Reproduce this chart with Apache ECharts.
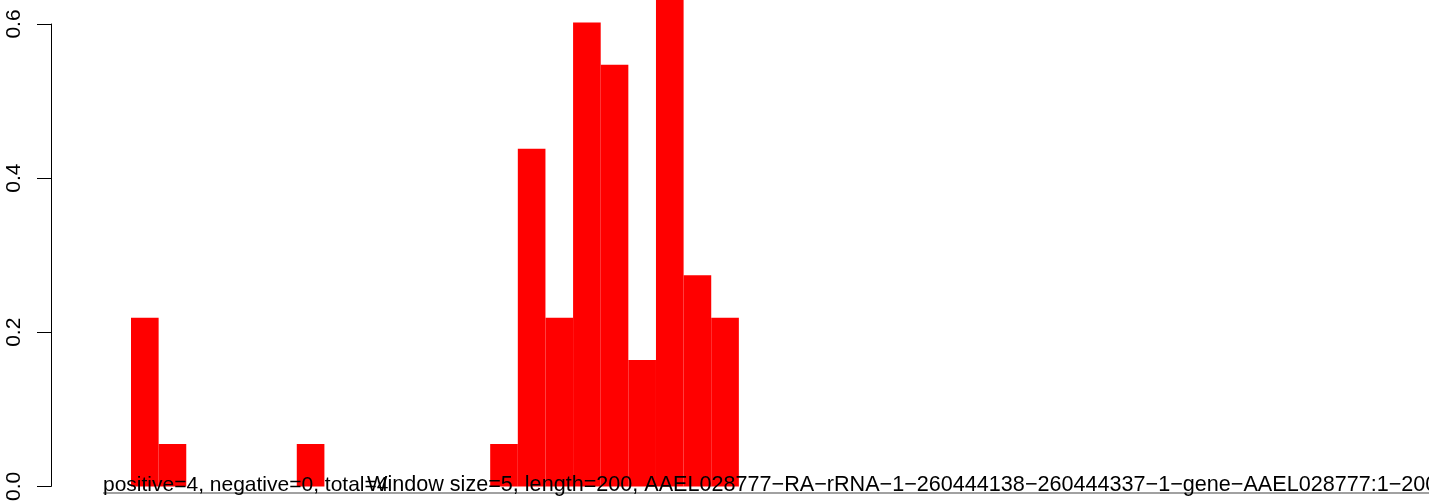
<!DOCTYPE html>
<html>
<head>
<meta charset="utf-8">
<script src="https://cdn.jsdelivr.net/npm/echarts@6/dist/echarts.min.js"></script>
<style>
  html, body { margin: 0; padding: 0; background: #ffffff; }
  #chart { width: 1429px; height: 504px; }
</style>
</head>
<body>
<div id="chart"></div>
<script>
// Windows of 5 nt along a 200 nt transcript (40 windows)
const windowLabels = Array.from({ length: 40 }, (_, i) => String(i * 5 + 1));

// Per-window density values (windows without reads are 0)
const densityValues = [
  0.219, 0.055, 0, 0, 0, 0, 0.055, 0, 0, 0,
  0, 0, 0, 0.055, 0.438, 0.219, 0.602, 0.547, 0.164, 0.657,
  0.274, 0.219, 0, 0, 0, 0, 0, 0, 0, 0,
  0, 0, 0, 0, 0, 0, 0, 0, 0, 0
];

// Y axis ticks
const yTicks = [0, 0.2, 0.4, 0.6];

const countsText = 'positive=4, negative=0, total=4';
const infoText = 'Window size=5, length=200, AAEL028777\u2212RA\u2212rRNA\u22121\u2212260444138\u2212260444337\u22121\u2212gene\u2212AAEL028777:1\u2212200';

const chart = echarts.init(document.getElementById('chart'), null, { renderer: 'canvas' });

const fontFamily = '"Liberation Sans", Arial, Helvetica, sans-serif';

chart.setOption({
  animation: false,
  backgroundColor: '#ffffff',
  grid: { left: 131, top: 24, bottom: 12, width: 40 * 27.63, containLabel: false },
  xAxis: {
    type: 'category',
    data: windowLabels,
    boundaryGap: true,
    show: false
  },
  yAxis: {
    type: 'value',
    min: yTicks[0],
    max: yTicks[yTicks.length - 1],
    interval: 0.2,
    offset: 80,
    axisLine: { show: true, lineStyle: { color: '#000', width: 1 } },
    axisTick: { show: true, length: 14, lineStyle: { color: '#000', width: 1 } },
    axisLabel: {
      show: true,
      rotate: 90,
      margin: 26,
      fontSize: 21,
      color: '#000',
      fontFamily: fontFamily,
      formatter: v => v.toFixed(1)
    },
    splitLine: { show: false }
  },
  series: [{
    type: 'bar',
    data: densityValues,
    barWidth: '100%',
    barCategoryGap: 0,
    clip: false,
    itemStyle: { color: '#ff0000' },
    silent: true
  }],
  graphic: [
    {
      type: 'line',
      z: 100,
      shape: { x1: 103, y1: 493, x2: 1429, y2: 493 },
      style: { stroke: '#444', lineWidth: 1.2 }
    },
    {
      type: 'text',
      z: 101,
      x: 103,
      y: 485,
      style: {
        text: countsText,
        font: '21px ' + fontFamily,
        fill: '#000',
        align: 'left',
        verticalAlign: 'middle'
      }
    },
    {
      type: 'text',
      z: 101,
      x: 367,
      y: 485,
      style: {
        text: infoText,
        font: '21.6px ' + fontFamily,
        fill: '#000',
        align: 'left',
        verticalAlign: 'middle'
      }
    }
  ]
});
</script>
</body>
</html>
